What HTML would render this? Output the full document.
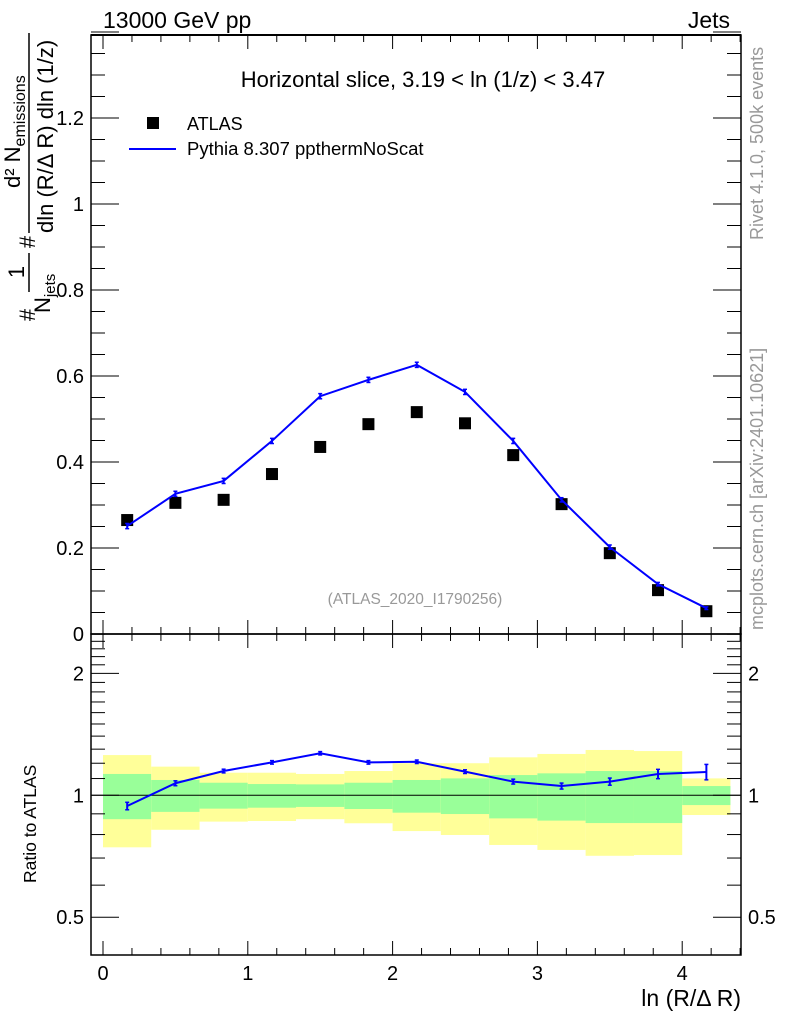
<!DOCTYPE html>
<html><head><meta charset="utf-8"><style>
body{margin:0;background:#fff}
svg text{font-family:"Liberation Sans",Arial,sans-serif}
</style></head><body>
<svg id="c" width="786" height="1024" xmlns="http://www.w3.org/2000/svg">
<g id="g"></g>
<line x1="91" y1="35" x2="741" y2="35" stroke="#000" stroke-width="2"/>
<text x="103" y="28" font-size="23">13000 GeV pp</text>
<text x="730" y="28" font-size="23" text-anchor="end">Jets</text>
<text x="423" y="87" font-size="22" text-anchor="middle">Horizontal slice, 3.19 &lt; ln (1/z) &lt; 3.47</text>
<rect x="147" y="117" width="12" height="12" fill="#000"/>
<text x="187" y="130" font-size="18">ATLAS</text>
<line x1="129" y1="149" x2="176" y2="149" stroke="#00f" stroke-width="2"/>
<text x="187" y="155" font-size="18.5">Pythia 8.307 ppthermNoScat</text>
<text x="415" y="604" font-size="15.5" fill="#999" text-anchor="middle">(ATLAS_2020_I1790256)</text>
<text transform="translate(763,240) rotate(-90)" font-size="18" fill="#999">Rivet 4.1.0,  500k events</text>
<text transform="translate(763,630) rotate(-90)" font-size="18" fill="#999">mcplots.cern.ch [arXiv:2401.10621]</text>
<g font-size="22">
<text transform="translate(35,315) rotate(-90)" text-anchor="middle">#</text>
<text transform="translate(24,272) rotate(-90)" text-anchor="middle">1</text>
<line x1="29" y1="253" x2="29" y2="292" stroke="#000" stroke-width="1.5"/>
<text transform="translate(50,313) rotate(-90)">N<tspan font-size="15" dy="5">jets</tspan></text>
<text transform="translate(35,242) rotate(-90)" text-anchor="middle">#</text>
<text transform="translate(20,188) rotate(-90)">d² N<tspan font-size="16" dy="5">emissions</tspan></text>
<line x1="29" y1="233" x2="29" y2="33" stroke="#000" stroke-width="1.5"/>
<text transform="translate(53,233) rotate(-90)">dln (R/Δ R) dln (1/z)</text>
</g>
<text transform="translate(36,883) rotate(-90)" font-size="17.5">Ratio to ATLAS</text>
<text x="741" y="1006" font-size="23" text-anchor="end">ln (R/Δ R)</text>
</svg>
<script>
const binLo=[0,0.333,0.667,1,1.333,1.667,2,2.333,2.667,3,3.333,3.667,4];
const binHi=[0.333,0.667,1,1.333,1.667,2,2.333,2.667,3,3.333,3.667,4,4.333];
const xc=[0.167,0.5,0.833,1.167,1.5,1.833,2.167,2.5,2.833,3.167,3.5,3.833,4.167];
const atlas=[0.265,0.305,0.312,0.372,0.435,0.488,0.516,0.49,0.416,0.302,0.188,0.102,0.053];
const mc=[0.251,0.326,0.356,0.449,0.553,0.591,0.626,0.563,0.449,0.312,0.202,0.116,0.06];
const mcErr=[0.006,0.006,0.006,0.006,0.006,0.006,0.006,0.006,0.006,0.005,0.005,0.004,0.003];
const yelHi=[1.257,1.177,1.137,1.137,1.129,1.148,1.2,1.2,1.241,1.265,1.294,1.286,1.101];
const yelLo=[0.744,0.822,0.861,0.864,0.873,0.853,0.816,0.798,0.754,0.733,0.709,0.712,0.894];
const grnHi=[1.129,1.091,1.074,1.066,1.064,1.074,1.091,1.101,1.122,1.133,1.148,1.148,1.054];
const grnLo=[0.873,0.910,0.927,0.932,0.936,0.925,0.906,0.899,0.877,0.866,0.854,0.854,0.946];
const ratio=[0.941,1.071,1.148,1.206,1.27,1.206,1.21,1.144,1.081,1.054,1.081,1.129,1.142];
const ratioErr=[0.02,0.015,0.012,0.012,0.012,0.012,0.012,0.012,0.015,0.018,0.022,0.03,0.05];
const xTicks=[0,1,2,3,4];
const yTicks=[0,0.2,0.4,0.6,0.8,1,1.2];
const yTickLabels=["0","0.2","0.4","0.6","0.8","1","1.2"];
const rTicks=[0.5,1,2];
const rTickLabels=["0.5","1","2"];

const L=91,R=741,T=35,B=634,RB=955;
const X=v=>103+v*144.8;
const Y=v=>634-v*430;
const RY=v=>795.3-405*Math.log10(v);
const g=document.getElementById('g');
const NS='http://www.w3.org/2000/svg';
function mk(t,a,p){const e=document.createElementNS(NS,t);for(const k in a)e.setAttribute(k,a[k]);(p||g).appendChild(e);return e;}
for(let i=0;i<binLo.length;i++){
 let e=mk('rect',{x:X(binLo[i]),y:RY(yelHi[i]),width:X(binHi[i])-X(binLo[i]),height:RY(yelLo[i])-RY(yelHi[i]),fill:'#ffff99'});
 
 
 e=mk('rect',{x:X(binLo[i]),y:RY(grnHi[i]),width:X(binHi[i])-X(binLo[i]),height:RY(grnLo[i])-RY(grnHi[i]),fill:'#99ff99'});
 
 
}
let ref=mk('line',{x1:L,x2:R,y1:RY(1),y2:RY(1),stroke:'#000','stroke-width':1});


yTicks.forEach((v,i)=>{const t=mk('text',{x:84,y:Y(v)+7,'font-size':20,'text-anchor':'end'});t.textContent=yTickLabels[i];
 
 });
let f1=mk('rect',{x:L,y:T,width:R-L,height:B-T,fill:'none',stroke:'#000','stroke-width':1.5});


let f2=mk('rect',{x:L,y:B,width:R-L,height:RB-B,fill:'#fff','fill-opacity':0,stroke:'#000','stroke-width':1.5});


for(let v=0;v<=4.4001;v+=0.2){
 const maj=Math.abs(v-Math.round(v))<1e-6, len=maj?14:7;
 for(const [yb,dir] of [[B,-1],[T,1],[RB,-1],[B,1]]){
  mk('line',{x1:X(v),x2:X(v),y1:yb,y2:yb+dir*len,stroke:'#000','stroke-width':1});
 }
}
xTicks.forEach(v=>{const t=mk('text',{x:X(v),y:980,'font-size':20,'text-anchor':'middle'});t.textContent=v;
 
 });
for(let v=0;v<=1.4001;v+=0.05){
 const maj=Math.abs(v*5-Math.round(v*5))<1e-6,len=maj?28:14;
 mk('line',{x1:L,x2:L+len,y1:Y(v),y2:Y(v),stroke:'#000'});
 mk('line',{x1:R,x2:R-len,y1:Y(v),y2:Y(v),stroke:'#000'});
}
for(let v=0.5;v<=2.5001;v+=0.1){
 const maj=rTicks.some(r=>Math.abs(r-v)<1e-6),len=maj?28:14;
 mk('line',{x1:L,x2:L+len,y1:RY(v),y2:RY(v),stroke:'#000'});
 mk('line',{x1:R,x2:R-len,y1:RY(v),y2:RY(v),stroke:'#000'});
}
rTicks.forEach((v,i)=>{let t=mk('text',{x:84,y:RY(v)+7,'font-size':20,'text-anchor':'end'});t.textContent=rTickLabels[i];
 
 
 t=mk('text',{x:748,y:RY(v)+7,'font-size':20});t.textContent=rTickLabels[i];
 
 });
atlas.forEach((v,i)=>{const r=mk('rect',{x:X(xc[i])-6,y:Y(v)-6,width:12,height:12,fill:'#000'});
 
 });
let pl=mk('polyline',{points:mc.map((v,i)=>X(xc[i])+','+Y(v)).join(' '),fill:'none',stroke:'#00f','stroke-width':2});


mc.forEach((v,i)=>{const x=X(xc[i]);mk('line',{x1:x,x2:x,y1:Y(v+mcErr[i]),y2:Y(v-mcErr[i]),stroke:'#00f','stroke-width':2});
 mk('line',{x1:x-2,x2:x+2,y1:Y(v+mcErr[i]),y2:Y(v+mcErr[i]),stroke:'#00f','stroke-width':1.5});
 mk('line',{x1:x-2,x2:x+2,y1:Y(v-mcErr[i]),y2:Y(v-mcErr[i]),stroke:'#00f','stroke-width':1.5});});
let rl=mk('polyline',{points:ratio.map((v,i)=>X(xc[i])+','+RY(v)).join(' '),fill:'none',stroke:'#00f','stroke-width':2});


ratio.forEach((v,i)=>{const x=X(xc[i]),a=RY(v+ratioErr[i]),b=RY(v-ratioErr[i]);
 mk('line',{x1:x,x2:x,y1:a,y2:b,stroke:'#00f','stroke-width':2});
 mk('line',{x1:x-2,x2:x+2,y1:a,y2:a,stroke:'#00f','stroke-width':1.5});
 mk('line',{x1:x-2,x2:x+2,y1:b,y2:b,stroke:'#00f','stroke-width':1.5});});
</script>
</body></html>
